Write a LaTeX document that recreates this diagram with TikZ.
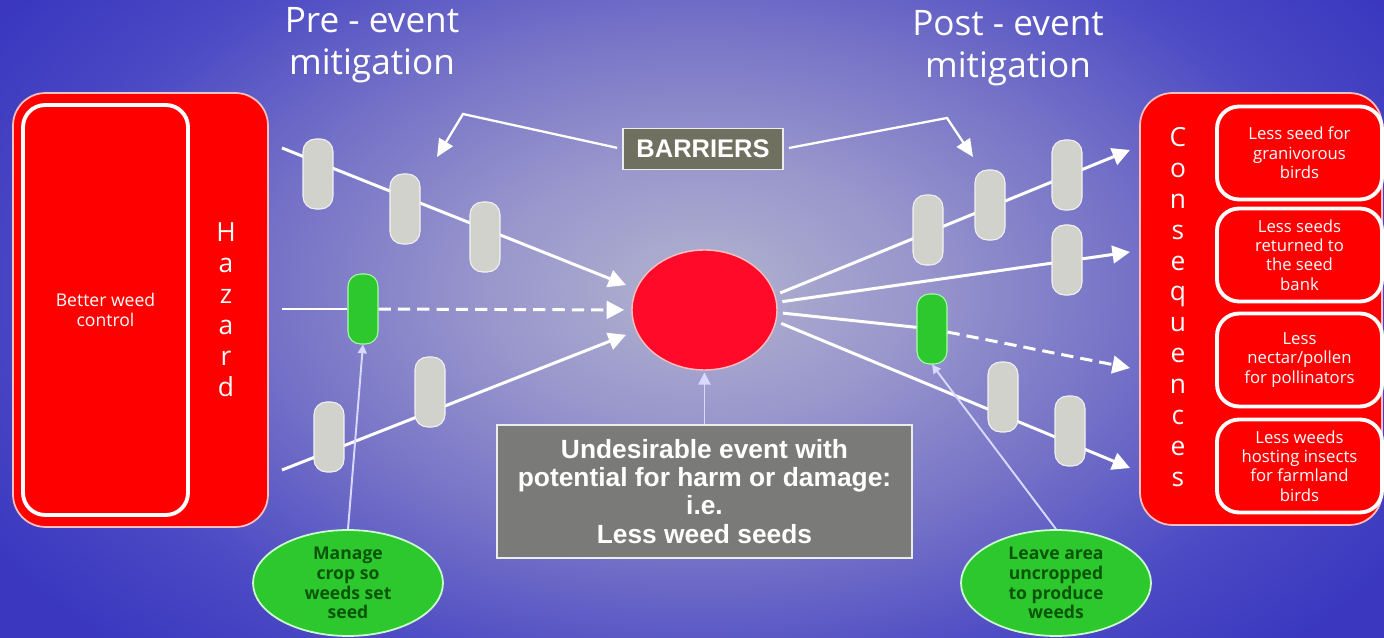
\documentclass[tikz,border=0pt]{standalone}
\usepackage{fontspec}
\setmainfont{Open Sans}
\newfontfamily\arialfont{Liberation Sans}
\usetikzlibrary{arrows.meta,shapes.geometric}

\pgfdeclareradialshading{bgglow}{\pgfpoint{0bp}{0bp}}{rgb(0bp)=(0.70,0.70,0.81);rgb(6bp)=(0.60,0.59,0.80);rgb(12bp)=(0.46,0.45,0.78);rgb(18bp)=(0.30,0.29,0.77);rgb(23bp)=(0.23,0.22,0.75);rgb(50bp)=(0.23,0.22,0.75)}

\definecolor{hazardred}{RGB}{255,0,0}
\definecolor{eventred}{RGB}{255,10,40}
\definecolor{barriergray}{RGB}{210,210,204}
\definecolor{mitgreen}{RGB}{45,200,45}
\definecolor{notegreen}{RGB}{10,85,10}
\definecolor{descgray}{RGB}{122,122,120}
\definecolor{tagolive}{RGB}{112,112,96}

\tikzset{
	flowline/.style={white, line width=1.7pt},
	flow/.style={flowline, -{Triangle[length=10pt,width=10pt]}},
	dash line/.style={dash pattern=on 7pt off 4pt},
	pointer/.style={white, line width=1.3pt, -{Triangle[length=10pt,width=9pt]}},
	thin pointer/.style={white!85!blue, line width=1.1pt, -{Triangle[length=5pt,width=5pt]}},
	title/.style={white, align=center, font=\fontsize{20}{24}\selectfont},
	letters/.style={white, align=center, inner sep=0pt, font=\fontsize{15}{17.6}\selectfont},
	panel/.style={rectangle, rounded corners=0.65cm, fill=hazardred, draw=pink, line width=1pt},
	inbox/.style={rectangle, rounded corners=0.44cm, fill=hazardred, draw=white, line width=2.2pt, text=white, align=center, inner sep=0pt},
	conbox/.style={minimum width=3.3cm, minimum height=1.86cm, font=\fontsize{9.5}{11}\selectfont},
	barrier/.style={rectangle, rounded corners=0.25cm, fill=barriergray, draw=white!90!gray, line width=0.6pt, minimum width=0.6cm, minimum height=1.4cm, inner sep=0pt},
	mitigate/.style={barrier, fill=mitgreen, draw=green!35!white},
	mitnote/.style={ellipse, fill=mitgreen, draw=white!80!green, line width=1pt, minimum width=3.8cm, minimum height=2.12cm, inner sep=0pt, align=center, text=notegreen, font=\fontsize{10}{11.3}\selectfont\bfseries},
	eventbox/.style={rectangle, fill=descgray, draw=white!85!gray, line width=1pt, minimum width=8.3cm, minimum height=2.66cm, align=center, text=white, font=\arialfont\bfseries\fontsize{15}{16}\selectfont},
	tagbox/.style={rectangle, fill=tagolive, draw=white!85!gray, line width=0.8pt, minimum width=3.2cm, minimum height=0.82cm, inner sep=0pt, text=white, font=\arialfont\bfseries\fontsize{14.5}{16}\selectfont}
}

\begin{document}
\begin{tikzpicture}[x=0.02cm,y=-0.02cm]
	\useasboundingbox (0,0) rectangle (1384,638);
	% Background
	\begin{scope}
		\clip (0,0) rectangle (1384,638);
		\shade [shading=bgglow] (-192,-260) rectangle (1592,840);
	\end{scope}
	% Titles
	\node [title] (pre) at (372,45) {Pre - event\\mitigation};
	\node [title] (post) at (1008,48) {Post - event\\mitigation};
	% Hazard
	\node [panel, minimum width=5.1cm, minimum height=8.68cm] (hazard) at (140.5,310) {};
	\node [inbox, minimum width=3.3cm, minimum height=8.2cm, font=\fontsize{10}{11.3}\selectfont] (control) at (105.5,310) {Better weed\\control};
	\node [letters] (hazardlbl) at (226,310) {H\\a\\z\\a\\r\\d};
	% Consequences
	\node [panel, minimum width=4.84cm, minimum height=8.64cm] (conseq) at (1261,309) {};
	\node [letters] (conseqlbl) at (1178,307) {C\\o\\n\\s\\e\\q\\u\\e\\n\\c\\e\\s};
	\node [inbox, conbox] (c1) at (1299.5,153) {Less seed for\\granivorous\\birds};
	\node [inbox, conbox] (c2) at (1299.5,255) {Less seeds\\returned to\\the seed\\bank};
	\node [inbox, conbox] (c3) at (1299.5,360) {Less\\nectar/pollen\\for pollinators};
	\node [inbox, conbox] (c4) at (1299.5,466) {Less weeds\\hosting insects\\for farmland\\birds};
	% Event
	\node [ellipse, fill=eventred, draw=pink, line width=0.8pt, minimum width=2.9cm, minimum height=2.4cm] (event) at (704.5,310) {};
	\node [mitigate] (g1) at (363,309) {};
	\node [mitigate] (g2) at (932,329) {};
	\coordinate (l1) at (282,148);
	\coordinate (l2) at (282,309);
	\coordinate (l3) at (282,470);
	\coordinate (r1) at (1130,150);
	\coordinate (r2) at (1130,252);
	\coordinate (r3) at (1130,368);
	\coordinate (r4) at (1130,468);
	\draw [flow, shorten >=6pt] (l1) -- (event.163);
	\draw [flowline] (l2) -- (g1);
	\draw [flow, dash line, shorten >=4pt] (g1) -- (event.west);
	\draw [flow, shorten >=6pt] (l3) -- (event.197);
	\draw [flow, shorten <=3pt] (event.12) -- (r1);
	\draw [flow, shorten <=3pt] (event.6) -- (r2);
	\draw [flowline, shorten <=3pt] (event.-2) -- (g2);
	\draw [flow, dash line] (g2) -- (r3);
	\draw [flow, shorten <=3pt] (event.-9) -- (r4);
	% Barriers
	\foreach \bx/\by [count=\i] in {318/174, 405/209, 485/237, 329/437, 430/392, 928/230, 990/205, 1067/175, 1067/260, 1003/397, 1070/431}
		\node [barrier] (b\i) at (\bx,\by) {};
	% Barrier label
	\node [tagbox] (tag) at (703,149) {BARRIERS};
	\coordinate (kl) at (463,114);
	\coordinate (al) at (437,157);
	\coordinate (kr) at (947,118);
	\coordinate (ar) at (973,157);
	\draw [pointer, shorten <=3pt] (tag.west) -- (kl) -- (al);
	\draw [pointer, shorten <=3pt] (tag.east) -- (kr) -- (ar);
	% Description
	\node [eventbox] (desc) at (704.5,491.5) {Undesirable event with\\potential for harm or damage:\\i.e.\\Less weed seeds};
	\draw [thin pointer, -{Triangle[length=7pt,width=7pt]}, shorten >=1pt] (desc.north) -- (event.south);
	% Mitigation notes
	\node [mitnote] (m1) at (348,583) {Manage\\crop so\\weeds set\\seed};
	\node [mitnote] (m2) at (1056,583) {Leave area\\uncropped\\to produce\\weeds};
	\draw [thin pointer] (m1.north) -- (g1.south);
	\draw [thin pointer] (m2.north) -- (g2.south);
\end{tikzpicture}
\end{document}
